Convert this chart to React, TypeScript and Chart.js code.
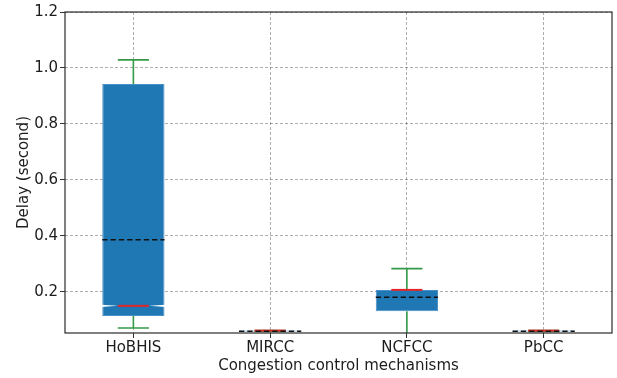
import React, { useEffect, useRef } from "react";
import { Chart, registerables } from "chart.js";

Chart.register(...registerables);

// Delay statistics per congestion control mechanism (seconds)
const mechanisms = ["HoBHIS", "MIRCC", "NCFCC", "PbCC"];
const whiskerLow = [0.071, 0.0585, 0.03, 0.0585];
const quartile1 = [0.114, 0.0585, 0.131, 0.0585];
const medians = [0.15, 0.0615, 0.207, 0.0615];
const quartile3 = [0.943, 0.0615, 0.207, 0.0615];
const whiskerHigh = [1.029, 0.0615, 0.283, 0.0615];
const means = [0.386, 0.0595, 0.181, 0.0595];
const notchHalfWidths = [0.004, 0, 0, 0];

const yTicks = [0.2, 0.4, 0.6, 0.8, 1.0, 1.2];
const yMin = 0.053;
const yMax = 1.2;

const BOX_BLUE = "#1f77b4";
const WHISKER_GREEN = "#359a48";
const MEDIAN_RED = "#e0262a";
const TEXT = "#1c1c1c";
const FONT = "'DejaVu Sans', sans-serif";

// Whiskers, caps, notches, medians and means drawn on top of the box bars
const boxDetails = {
  id: "boxDetails",
  afterDatasetsDraw(chart: any) {
    const { ctx, chartArea: a, scales } = chart;
    const y = scales.y;
    const meta = chart.getDatasetMeta(0);
    ctx.save();
    ctx.beginPath();
    ctx.rect(a.left, a.top, a.right - a.left, a.bottom - a.top);
    ctx.clip();
    meta.data.forEach((bar: any, i: number) => {
      const { x, width } = bar.getProps(["x", "width"], true);
      const left = x - width / 2;
      const right = x + width / 2;
      const capHalf = width / 4;

      const n = notchHalfWidths[i];
      if (n > 0) {
        const ym = y.getPixelForValue(medians[i]);
        const yl = y.getPixelForValue(medians[i] - n);
        const yh = y.getPixelForValue(medians[i] + n);
        ctx.fillStyle = "#ffffff";
        ctx.beginPath();
        ctx.moveTo(left - 1, yl);
        ctx.lineTo(x - capHalf, ym);
        ctx.lineTo(left - 1, yh);
        ctx.closePath();
        ctx.fill();
        ctx.beginPath();
        ctx.moveTo(right + 1, yl);
        ctx.lineTo(x + capHalf, ym);
        ctx.lineTo(right + 1, yh);
        ctx.closePath();
        ctx.fill();
      }

      // whiskers and caps
      ctx.strokeStyle = WHISKER_GREEN;
      ctx.lineWidth = 1.6;
      ctx.setLineDash([]);
      const pLow = y.getPixelForValue(whiskerLow[i]);
      const pQ1 = y.getPixelForValue(quartile1[i]);
      const pQ3 = y.getPixelForValue(quartile3[i]);
      const pHigh = y.getPixelForValue(whiskerHigh[i]);
      ctx.beginPath();
      ctx.moveTo(x, pQ1);
      ctx.lineTo(x, pLow);
      ctx.moveTo(x, pQ3);
      ctx.lineTo(x, pHigh);
      ctx.moveTo(x - capHalf, pLow);
      ctx.lineTo(x + capHalf, pLow);
      ctx.moveTo(x - capHalf, pHigh);
      ctx.lineTo(x + capHalf, pHigh);
      ctx.stroke();

      // median
      const pMed = y.getPixelForValue(medians[i]);
      ctx.strokeStyle = MEDIAN_RED;
      ctx.lineWidth = 2;
      ctx.beginPath();
      ctx.moveTo(x - capHalf, pMed);
      ctx.lineTo(x + capHalf, pMed);
      ctx.stroke();

      // mean
      const pMean = y.getPixelForValue(means[i]);
      ctx.strokeStyle = "#111111";
      ctx.lineWidth = 1.5;
      ctx.setLineDash([5.3, 3]);
      ctx.beginPath();
      ctx.moveTo(left, pMean);
      ctx.lineTo(right, pMean);
      ctx.stroke();
      ctx.setLineDash([]);
    });
    ctx.restore();

    // axes frame
    ctx.save();
    ctx.strokeStyle = "#333333";
    ctx.lineWidth = 1.25;
    ctx.strokeRect(a.left, a.top, a.right - a.left, a.bottom - a.top);
    ctx.restore();
  },
};

export default function App() {
  const canvasRef = useRef<HTMLCanvasElement | null>(null);

  useEffect(() => {
    document.body.style.margin = "0";
    const canvas = canvasRef.current;
    if (!canvas) return;
    const chart = new Chart(canvas, {
      type: "bar",
      data: {
        labels: mechanisms,
        datasets: [
          {
            label: "Delay",
            data: mechanisms.map((_, i) => [quartile1[i], quartile3[i]]) as any,
            backgroundColor: BOX_BLUE,
            borderColor: "#4a8fc6",
            borderWidth: 1,
            borderSkipped: false,
            barPercentage: 0.455,
            categoryPercentage: 1,
          },
        ],
      },
      options: {
        responsive: false,
        animation: false,
        devicePixelRatio: 1,
        layout: { padding: { left: 0, right: 5, top: 12, bottom: 0 } },
        plugins: {
          legend: { display: false },
          tooltip: { enabled: false },
        },
        scales: {
          x: {
            offset: true,
            grid: {
              offset: false,
              color: "rgba(0,0,0,0.4)",
              lineWidth: 0.8,
              tickLength: 5,
              tickColor: "#333333",
              tickWidth: 1,
            },
            border: { display: false, dash: [3, 2] },
            ticks: {
              color: TEXT,
              font: { family: FONT, size: 15 },
              padding: 1,
              maxRotation: 0,
            },
            title: {
              display: true,
              text: "Congestion control mechanisms",
              color: TEXT,
              font: { family: FONT, size: 15 },
              padding: { top: 0, bottom: 3 },
            },
            afterFit(scale: any) {
              scale.height = 45;
            },
          },
          y: {
            min: yMin,
            max: yMax,
            grid: {
              color: "rgba(0,0,0,0.4)",
              lineWidth: 0.8,
              tickLength: 5,
              tickColor: "#333333",
              tickWidth: 1,
            },
            border: { display: false, dash: [3, 2] },
            ticks: {
              color: TEXT,
              font: { family: FONT, size: 15 },
              padding: 2,
              callback: (v: any) => Number(v).toFixed(1),
            },
            afterBuildTicks(scale: any) {
              scale.ticks = yTicks.map((v) => ({ value: v }));
            },
            title: {
              display: true,
              text: "Delay (second)",
              color: TEXT,
              font: { family: FONT, size: 15 },
              padding: { top: 15, bottom: 0 },
            },
            afterFit(scale: any) {
              scale.width = 65;
            },
          },
        },
      },
      plugins: [boxDetails],
    });
    return () => chart.destroy();
  }, []);

  return (
    <div style={{ width: 617, height: 378 }}>
      <canvas ref={canvasRef} width={617} height={378} style={{ display: "block" }} />
    </div>
  );
}
